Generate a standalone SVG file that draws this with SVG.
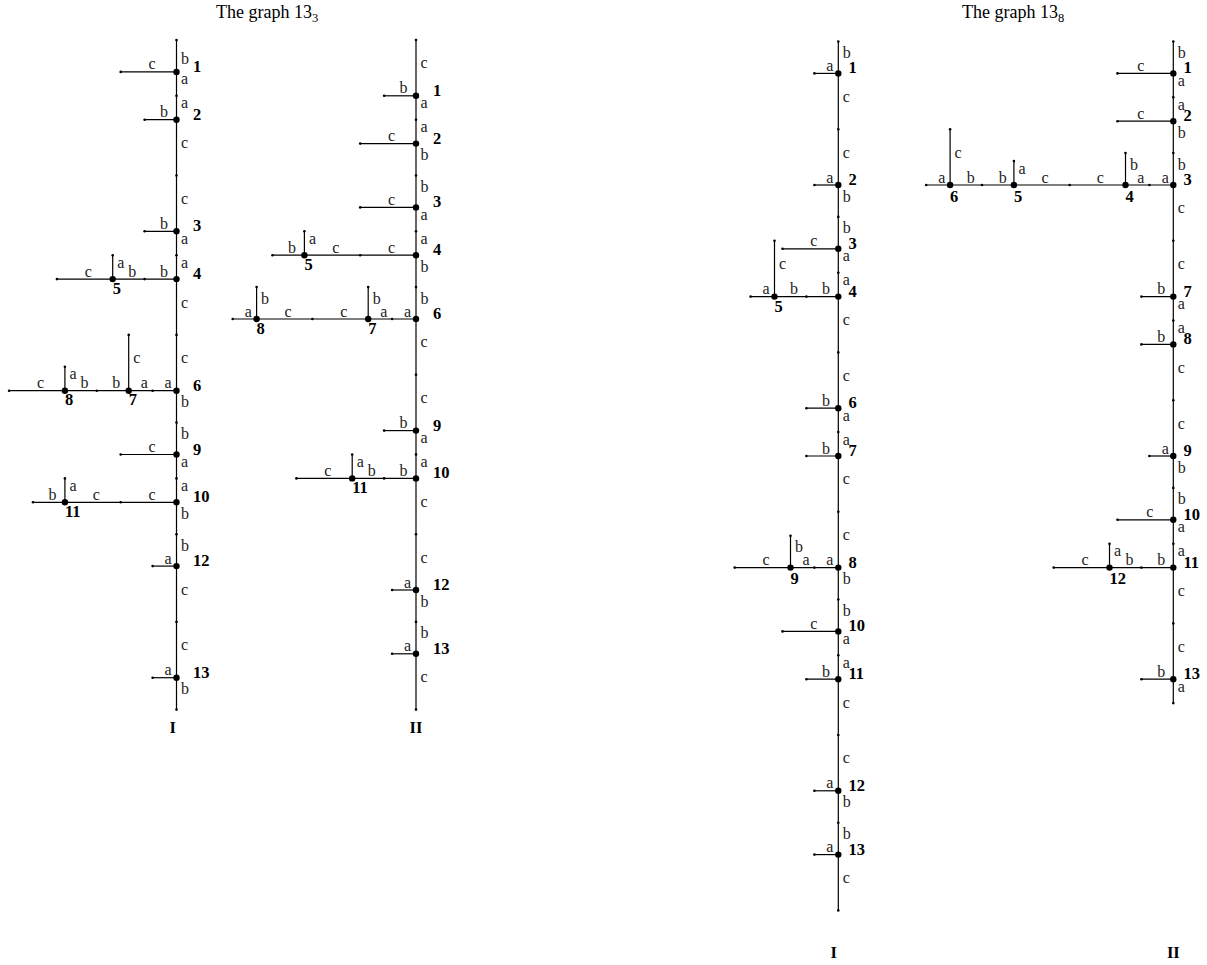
<svg xmlns="http://www.w3.org/2000/svg" width="1207" height="965" viewBox="0 0 1207 965">
<style>
.e{stroke:#000;stroke-width:1.2;fill:none}
.d{fill:#000}
.n{fill:#000}
.l{font-family:"Liberation Serif",serif;font-size:16px;fill:#222}
.m{text-anchor:middle}
.num{font-family:"Liberation Serif",serif;font-size:16.5px;font-weight:bold;fill:#000}
.t{font-family:"Liberation Serif",serif;font-size:18px;fill:#000}
.bl{font-family:"Liberation Serif",serif;font-size:16.5px;font-weight:bold;fill:#000;text-anchor:middle}
</style>
<rect width="1207" height="965" fill="#fff"/>
<text class="t" x="216" y="17.5">The graph 13<tspan font-size="12.5" dy="4">3</tspan></text>
<text class="t" x="962" y="17.5">The graph 13<tspan font-size="12.5" dy="4">8</tspan></text>

<!-- ===== Graph 13_3 I ===== -->
<g id="g133I">
<g id="g133I-connectors">
<g class="e">
<line x1="176.5" y1="40" x2="176.5" y2="709.6"/>
<line x1="120.7" y1="71.9" x2="176.5" y2="71.9"/>
<line x1="144.6" y1="119.7" x2="176.5" y2="119.7"/>
<line x1="144.6" y1="231.3" x2="176.5" y2="231.3"/>
<line x1="56.9" y1="279.1" x2="176.5" y2="279.1"/>
<line x1="112.7" y1="255.2" x2="112.7" y2="279.1"/>
<line x1="9.1" y1="390.7" x2="176.5" y2="390.7"/>
<line x1="128.7" y1="334.9" x2="128.7" y2="390.7"/>
<line x1="64.9" y1="366.8" x2="64.9" y2="390.7"/>
<line x1="120.7" y1="454.5" x2="176.5" y2="454.5"/>
<line x1="33" y1="502.3" x2="176.5" y2="502.3"/>
<line x1="64.9" y1="478.4" x2="64.9" y2="502.3"/>
<line x1="152.6" y1="566.1" x2="176.5" y2="566.1"/>
<line x1="152.6" y1="677.7" x2="176.5" y2="677.7"/>
</g>
<g class="d">
<circle cx="176.5" cy="40" r="1.3"/><circle cx="176.5" cy="95.8" r="1.3"/><circle cx="176.5" cy="175.5" r="1.3"/><circle cx="176.5" cy="255.2" r="1.3"/><circle cx="176.5" cy="334.9" r="1.3"/><circle cx="176.5" cy="422.6" r="1.3"/><circle cx="176.5" cy="478.4" r="1.3"/><circle cx="176.5" cy="534.2" r="1.3"/><circle cx="176.5" cy="621.9" r="1.3"/><circle cx="176.5" cy="709.6" r="1.3"/>
<circle cx="120.7" cy="71.9" r="1.3"/><circle cx="144.6" cy="119.7" r="1.3"/><circle cx="144.6" cy="231.3" r="1.3"/><circle cx="144.6" cy="279.1" r="1.3"/><circle cx="56.9" cy="279.1" r="1.3"/><circle cx="112.7" cy="255.2" r="1.3"/><circle cx="152.6" cy="390.7" r="1.3"/><circle cx="96.8" cy="390.7" r="1.3"/><circle cx="9.1" cy="390.7" r="1.3"/><circle cx="128.7" cy="334.9" r="1.3"/><circle cx="64.9" cy="366.8" r="1.3"/><circle cx="120.7" cy="454.5" r="1.3"/><circle cx="120.7" cy="502.3" r="1.3"/><circle cx="33" cy="502.3" r="1.3"/><circle cx="64.9" cy="478.4" r="1.3"/><circle cx="152.6" cy="566.1" r="1.3"/><circle cx="152.6" cy="677.7" r="1.3"/>
</g>
<g class="l">
<text x="181" y="64">b</text><text x="181" y="84.4">a</text><text x="181" y="108.3">a</text><text x="181" y="148.1">c</text><text x="181" y="203.9">c</text><text x="181" y="243.8">a</text><text x="181" y="267.7">a</text><text x="181" y="307.5">c</text><text x="181" y="363.3">c</text><text x="181" y="407.2">b</text><text x="181" y="439.1">b</text><text x="181" y="467">a</text><text x="181" y="490.9">a</text><text x="181" y="518.8">b</text><text x="181" y="550.7">b</text><text x="181" y="594.5">c</text><text x="181" y="650.3">c</text><text x="181" y="694.2">b</text>
<text x="117.2" y="267.7">a</text><text x="133.2" y="363.3">c</text><text x="69.4" y="379.3">a</text><text x="69.4" y="490.9">a</text>
</g>
<g class="l m">
<text x="152.1" y="69.4">c</text><text x="164.1" y="117.2">b</text><text x="164.1" y="228.8">b</text>
<text x="164.1" y="276.6">b</text><text x="132.2" y="276.6">b</text><text x="88.3" y="276.6">c</text>
<text x="168.1" y="388.2">a</text><text x="144.2" y="388.2">a</text><text x="116.3" y="388.2">b</text><text x="84.4" y="388.2">b</text><text x="40.5" y="388.2">c</text>
<text x="152.1" y="452">c</text>
<text x="152.1" y="499.8">c</text><text x="96.3" y="499.8">c</text><text x="52.5" y="499.8">b</text>
<text x="168.1" y="563.6">a</text><text x="168.1" y="675.2">a</text>
</g>
</g>
<g id="g133I-n1"><circle class="n" cx="176.5" cy="71.9" r="3.2"/><text class="num" x="193" y="71.9">1</text></g>
<g id="g133I-n2"><circle class="n" cx="176.5" cy="119.7" r="3.2"/><text class="num" x="193" y="119.7">2</text></g>
<g id="g133I-n3"><circle class="n" cx="176.5" cy="231.3" r="3.2"/><text class="num" x="193" y="231.3">3</text></g>
<g id="g133I-n4"><circle class="n" cx="176.5" cy="279.1" r="3.2"/><text class="num" x="193" y="279.1">4</text></g>
<g id="g133I-n5"><circle class="n" cx="112.7" cy="279.1" r="3.2"/><text class="num" x="112.7" y="293.6">5</text></g>
<g id="g133I-n6"><circle class="n" cx="176.5" cy="390.7" r="3.2"/><text class="num" x="193" y="390.7">6</text></g>
<g id="g133I-n7"><circle class="n" cx="128.7" cy="390.7" r="3.2"/><text class="num" x="128.7" y="405.2">7</text></g>
<g id="g133I-n8"><circle class="n" cx="64.9" cy="390.7" r="3.2"/><text class="num" x="64.9" y="405.2">8</text></g>
<g id="g133I-n9"><circle class="n" cx="176.5" cy="454.5" r="3.2"/><text class="num" x="193" y="454.5">9</text></g>
<g id="g133I-n10"><circle class="n" cx="176.5" cy="502.3" r="3.2"/><text class="num" x="193" y="502.3">10</text></g>
<g id="g133I-n11"><circle class="n" cx="64.9" cy="502.3" r="3.2"/><text class="num" x="64.9" y="516.8">11</text></g>
<g id="g133I-n12"><circle class="n" cx="176.5" cy="566.1" r="3.2"/><text class="num" x="193" y="566.1">12</text></g>
<g id="g133I-n13"><circle class="n" cx="176.5" cy="677.7" r="3.2"/><text class="num" x="193" y="677.7">13</text></g>
<text class="bl" x="172.7" y="733">I</text>
</g>

<!-- ===== Graph 13_3 II ===== -->
<g id="g133II">
<g id="g133II-connectors">
<g class="e">
<line x1="416" y1="40" x2="416" y2="709.6"/>
<line x1="384.1" y1="95.8" x2="416" y2="95.8"/>
<line x1="360.2" y1="143.6" x2="416" y2="143.6"/>
<line x1="360.2" y1="207.4" x2="416" y2="207.4"/>
<line x1="272.5" y1="255.2" x2="416" y2="255.2"/>
<line x1="304.4" y1="231.3" x2="304.4" y2="255.2"/>
<line x1="232.7" y1="319" x2="416" y2="319"/>
<line x1="368.2" y1="287.1" x2="368.2" y2="319"/>
<line x1="256.6" y1="287.1" x2="256.6" y2="319"/>
<line x1="384.1" y1="430.6" x2="416" y2="430.6"/>
<line x1="296.4" y1="478.4" x2="416" y2="478.4"/>
<line x1="352.2" y1="454.5" x2="352.2" y2="478.4"/>
<line x1="392.1" y1="590" x2="416" y2="590"/>
<line x1="392.1" y1="653.8" x2="416" y2="653.8"/>
</g>
<g class="d">
<circle cx="416" cy="40" r="1.3"/><circle cx="416" cy="119.7" r="1.3"/><circle cx="416" cy="175.5" r="1.3"/><circle cx="416" cy="231.3" r="1.3"/><circle cx="416" cy="287.1" r="1.3"/><circle cx="416" cy="374.8" r="1.3"/><circle cx="416" cy="454.5" r="1.3"/><circle cx="416" cy="534.2" r="1.3"/><circle cx="416" cy="621.9" r="1.3"/><circle cx="416" cy="709.6" r="1.3"/>
<circle cx="384.1" cy="95.8" r="1.3"/><circle cx="360.2" cy="143.6" r="1.3"/><circle cx="360.2" cy="207.4" r="1.3"/><circle cx="360.2" cy="255.2" r="1.3"/><circle cx="272.5" cy="255.2" r="1.3"/><circle cx="304.4" cy="231.3" r="1.3"/><circle cx="392.1" cy="319" r="1.3"/><circle cx="312.4" cy="319" r="1.3"/><circle cx="232.7" cy="319" r="1.3"/><circle cx="368.2" cy="287.1" r="1.3"/><circle cx="256.6" cy="287.1" r="1.3"/><circle cx="384.1" cy="430.6" r="1.3"/><circle cx="384.1" cy="478.4" r="1.3"/><circle cx="296.4" cy="478.4" r="1.3"/><circle cx="352.2" cy="454.5" r="1.3"/><circle cx="392.1" cy="590" r="1.3"/><circle cx="392.1" cy="653.8" r="1.3"/>
</g>
<g class="l">
<text x="420.5" y="68.4">c</text><text x="420.5" y="108.3">a</text><text x="420.5" y="132.2">a</text><text x="420.5" y="160">b</text><text x="420.5" y="192">b</text><text x="420.5" y="219.9">a</text><text x="420.5" y="243.8">a</text><text x="420.5" y="271.7">b</text><text x="420.5" y="303.6">b</text><text x="420.5" y="347.4">c</text><text x="420.5" y="403.2">c</text><text x="420.5" y="443">a</text><text x="420.5" y="467">a</text><text x="420.5" y="506.8">c</text><text x="420.5" y="562.6">c</text><text x="420.5" y="606.5">b</text><text x="420.5" y="638.4">b</text><text x="420.5" y="682.2">c</text>
<text x="308.9" y="243.8">a</text><text x="372.7" y="303.6">b</text><text x="261.1" y="303.6">b</text><text x="356.7" y="467">a</text>
</g>
<g class="l m">
<text x="403.6" y="93.3">b</text><text x="391.6" y="141.1">c</text><text x="391.6" y="204.9">c</text>
<text x="391.6" y="252.7">c</text><text x="335.8" y="252.7">c</text><text x="292" y="252.7">b</text>
<text x="407.5" y="316.5">a</text><text x="383.7" y="316.5">a</text><text x="343.8" y="316.5">c</text><text x="288" y="316.5">c</text><text x="248.2" y="316.5">a</text>
<text x="403.6" y="428.1">b</text>
<text x="403.6" y="475.9">b</text><text x="371.7" y="475.9">b</text><text x="327.8" y="475.9">c</text>
<text x="407.6" y="587.5">a</text><text x="407.6" y="651.3">a</text>
</g>
</g>
<g id="g133II-n1"><circle class="n" cx="416" cy="95.8" r="3.2"/><text class="num" x="433" y="95.8">1</text></g>
<g id="g133II-n2"><circle class="n" cx="416" cy="143.6" r="3.2"/><text class="num" x="433" y="143.6">2</text></g>
<g id="g133II-n3"><circle class="n" cx="416" cy="207.4" r="3.2"/><text class="num" x="433" y="207.4">3</text></g>
<g id="g133II-n4"><circle class="n" cx="416" cy="255.2" r="3.2"/><text class="num" x="433" y="255.2">4</text></g>
<g id="g133II-n5"><circle class="n" cx="304.4" cy="255.2" r="3.2"/><text class="num" x="304.4" y="269.7">5</text></g>
<g id="g133II-n6"><circle class="n" cx="416" cy="319" r="3.2"/><text class="num" x="433" y="319">6</text></g>
<g id="g133II-n7"><circle class="n" cx="368.2" cy="319" r="3.2"/><text class="num" x="368.2" y="333.5">7</text></g>
<g id="g133II-n8"><circle class="n" cx="256.6" cy="319" r="3.2"/><text class="num" x="256.6" y="333.5">8</text></g>
<g id="g133II-n9"><circle class="n" cx="416" cy="430.6" r="3.2"/><text class="num" x="433" y="430.6">9</text></g>
<g id="g133II-n10"><circle class="n" cx="416" cy="478.4" r="3.2"/><text class="num" x="433" y="478.4">10</text></g>
<g id="g133II-n11"><circle class="n" cx="352.2" cy="478.4" r="3.2"/><text class="num" x="352.2" y="493">11</text></g>
<g id="g133II-n12"><circle class="n" cx="416" cy="590" r="3.2"/><text class="num" x="433" y="590">12</text></g>
<g id="g133II-n13"><circle class="n" cx="416" cy="653.8" r="3.2"/><text class="num" x="433" y="653.8">13</text></g>
<text class="bl" x="416" y="733">II</text>
</g>

<!-- ===== Graph 13_8 I ===== -->
<g id="g138I">
<g id="g138I-connectors">
<g class="e">
<line x1="838.3" y1="41.5" x2="838.3" y2="910.4"/>
<line x1="814.4" y1="73.4" x2="838.3" y2="73.4"/>
<line x1="814.4" y1="185" x2="838.3" y2="185"/>
<line x1="782.5" y1="248.8" x2="838.3" y2="248.8"/>
<line x1="750.6" y1="296.6" x2="838.3" y2="296.6"/>
<line x1="774.5" y1="240.8" x2="774.5" y2="296.6"/>
<line x1="806.4" y1="408.2" x2="838.3" y2="408.2"/>
<line x1="806.4" y1="456" x2="838.3" y2="456"/>
<line x1="734.7" y1="567.6" x2="838.3" y2="567.6"/>
<line x1="790.5" y1="535.7" x2="790.5" y2="567.6"/>
<line x1="782.5" y1="631.4" x2="838.3" y2="631.4"/>
<line x1="806.4" y1="679.2" x2="838.3" y2="679.2"/>
<line x1="814.4" y1="790.8" x2="838.3" y2="790.8"/>
<line x1="814.4" y1="854.6" x2="838.3" y2="854.6"/>
</g>
<g class="d">
<circle cx="838.3" cy="41.5" r="1.3"/><circle cx="838.3" cy="129.2" r="1.3"/><circle cx="838.3" cy="216.9" r="1.3"/><circle cx="838.3" cy="272.7" r="1.3"/><circle cx="838.3" cy="352.4" r="1.3"/><circle cx="838.3" cy="432.1" r="1.3"/><circle cx="838.3" cy="511.8" r="1.3"/><circle cx="838.3" cy="599.5" r="1.3"/><circle cx="838.3" cy="655.3" r="1.3"/><circle cx="838.3" cy="735" r="1.3"/><circle cx="838.3" cy="822.7" r="1.3"/><circle cx="838.3" cy="910.4" r="1.3"/>
<circle cx="814.4" cy="73.4" r="1.3"/><circle cx="814.4" cy="185" r="1.3"/><circle cx="782.5" cy="248.8" r="1.3"/><circle cx="806.4" cy="296.6" r="1.3"/><circle cx="750.6" cy="296.6" r="1.3"/><circle cx="774.5" cy="240.8" r="1.3"/><circle cx="806.4" cy="408.2" r="1.3"/><circle cx="806.4" cy="456" r="1.3"/><circle cx="814.4" cy="567.6" r="1.3"/><circle cx="734.7" cy="567.6" r="1.3"/><circle cx="790.5" cy="535.7" r="1.3"/><circle cx="782.5" cy="631.4" r="1.3"/><circle cx="806.4" cy="679.2" r="1.3"/><circle cx="814.4" cy="790.8" r="1.3"/><circle cx="814.4" cy="854.6" r="1.3"/>
</g>
<g class="l">
<text x="842.8" y="58">b</text><text x="842.8" y="101.8">c</text><text x="842.8" y="157.6">c</text><text x="842.8" y="201.5">b</text><text x="842.8" y="233.4">b</text><text x="842.8" y="261.3">a</text><text x="842.8" y="285.2">a</text><text x="842.8" y="325">c</text><text x="842.8" y="380.8">c</text><text x="842.8" y="420.7">a</text><text x="842.8" y="444.6">a</text><text x="842.8" y="484.4">c</text><text x="842.8" y="540.2">c</text><text x="842.8" y="584.1">b</text><text x="842.8" y="616">b</text><text x="842.8" y="643.9">a</text><text x="842.8" y="667.8">a</text><text x="842.8" y="707.6">c</text><text x="842.8" y="763.4">c</text><text x="842.8" y="807.3">b</text><text x="842.8" y="839.2">b</text><text x="842.8" y="883">c</text>
<text x="779" y="269.2">c</text><text x="795" y="552.2">b</text>
</g>
<g class="l m">
<text x="829.9" y="70.9">a</text><text x="829.9" y="182.5">a</text><text x="813.9" y="246.3">c</text>
<text x="825.9" y="294.1">b</text><text x="794" y="294.1">b</text><text x="766" y="294.1">a</text>
<text x="825.9" y="405.7">b</text><text x="825.9" y="453.5">b</text>
<text x="829.9" y="565.1">a</text><text x="806" y="565.1">a</text><text x="766.1" y="565.1">c</text>
<text x="813.9" y="628.9">c</text><text x="825.9" y="676.7">b</text><text x="829.9" y="788.3">a</text><text x="829.9" y="852.1">a</text>
</g>
</g>
<g id="g138I-n1"><circle class="n" cx="838.3" cy="73.4" r="3.2"/><text class="num" x="848.5" y="73.4">1</text></g>
<g id="g138I-n2"><circle class="n" cx="838.3" cy="185" r="3.2"/><text class="num" x="848.5" y="185">2</text></g>
<g id="g138I-n3"><circle class="n" cx="838.3" cy="248.8" r="3.2"/><text class="num" x="848.5" y="248.8">3</text></g>
<g id="g138I-n4"><circle class="n" cx="838.3" cy="296.6" r="3.2"/><text class="num" x="848.5" y="296.6">4</text></g>
<g id="g138I-n5"><circle class="n" cx="774.5" cy="296.6" r="3.2"/><text class="num" x="774.5" y="312">5</text></g>
<g id="g138I-n6"><circle class="n" cx="838.3" cy="408.2" r="3.2"/><text class="num" x="848.5" y="408.2">6</text></g>
<g id="g138I-n7"><circle class="n" cx="838.3" cy="456" r="3.2"/><text class="num" x="848.5" y="456">7</text></g>
<g id="g138I-n8"><circle class="n" cx="838.3" cy="567.6" r="3.2"/><text class="num" x="848.5" y="567.6">8</text></g>
<g id="g138I-n9"><circle class="n" cx="790.5" cy="567.6" r="3.2"/><text class="num" x="790.5" y="583.5">9</text></g>
<g id="g138I-n10"><circle class="n" cx="838.3" cy="631.4" r="3.2"/><text class="num" x="848.5" y="631.4">10</text></g>
<g id="g138I-n11"><circle class="n" cx="838.3" cy="679.2" r="3.2"/><text class="num" x="848.5" y="679.2">11</text></g>
<g id="g138I-n12"><circle class="n" cx="838.3" cy="790.8" r="3.2"/><text class="num" x="848.5" y="790.8">12</text></g>
<g id="g138I-n13"><circle class="n" cx="838.3" cy="854.6" r="3.2"/><text class="num" x="848.5" y="854.6">13</text></g>
<text class="bl" x="833.7" y="958">I</text>
</g>

<!-- ===== Graph 13_8 II ===== -->
<g id="g138II">
<g id="g138II-connectors">
<g class="e">
<line x1="1173.3" y1="41.5" x2="1173.3" y2="703.1"/>
<line x1="1117.5" y1="73.4" x2="1173.3" y2="73.4"/>
<line x1="1117.5" y1="121.2" x2="1173.3" y2="121.2"/>
<line x1="926.2" y1="185" x2="1173.3" y2="185"/>
<line x1="1125.5" y1="153.1" x2="1125.5" y2="185"/>
<line x1="1013.9" y1="161.1" x2="1013.9" y2="185"/>
<line x1="950.1" y1="129.2" x2="950.1" y2="185"/>
<line x1="1141.4" y1="296.6" x2="1173.3" y2="296.6"/>
<line x1="1141.4" y1="344.4" x2="1173.3" y2="344.4"/>
<line x1="1149.4" y1="456" x2="1173.3" y2="456"/>
<line x1="1117.5" y1="519.8" x2="1173.3" y2="519.8"/>
<line x1="1053.7" y1="567.6" x2="1173.3" y2="567.6"/>
<line x1="1109.5" y1="543.7" x2="1109.5" y2="567.6"/>
<line x1="1141.4" y1="679.2" x2="1173.3" y2="679.2"/>
</g>
<g class="d">
<circle cx="1173.3" cy="41.5" r="1.3"/><circle cx="1173.3" cy="97.3" r="1.3"/><circle cx="1173.3" cy="153.1" r="1.3"/><circle cx="1173.3" cy="240.8" r="1.3"/><circle cx="1173.3" cy="320.5" r="1.3"/><circle cx="1173.3" cy="400.2" r="1.3"/><circle cx="1173.3" cy="487.9" r="1.3"/><circle cx="1173.3" cy="543.7" r="1.3"/><circle cx="1173.3" cy="623.4" r="1.3"/><circle cx="1173.3" cy="703.1" r="1.3"/>
<circle cx="1117.5" cy="73.4" r="1.3"/><circle cx="1117.5" cy="121.2" r="1.3"/><circle cx="1149.4" cy="185" r="1.3"/><circle cx="1069.7" cy="185" r="1.3"/><circle cx="982" cy="185" r="1.3"/><circle cx="926.2" cy="185" r="1.3"/><circle cx="1125.5" cy="153.1" r="1.3"/><circle cx="1013.9" cy="161.1" r="1.3"/><circle cx="950.1" cy="129.2" r="1.3"/><circle cx="1141.4" cy="296.6" r="1.3"/><circle cx="1141.4" cy="344.4" r="1.3"/><circle cx="1149.4" cy="456" r="1.3"/><circle cx="1117.5" cy="519.8" r="1.3"/><circle cx="1141.4" cy="567.6" r="1.3"/><circle cx="1053.7" cy="567.6" r="1.3"/><circle cx="1109.5" cy="543.7" r="1.3"/><circle cx="1141.4" cy="679.2" r="1.3"/>
</g>
<g class="l">
<text x="1177.8" y="58">b</text><text x="1177.8" y="85.9">a</text><text x="1177.8" y="109.8">a</text><text x="1177.8" y="137.7">b</text><text x="1177.8" y="169.6">b</text><text x="1177.8" y="213.4">c</text><text x="1177.8" y="269.2">c</text><text x="1177.8" y="309">a</text><text x="1177.8" y="333">a</text><text x="1177.8" y="372.8">c</text><text x="1177.8" y="428.6">c</text><text x="1177.8" y="472.5">b</text><text x="1177.8" y="504.4">b</text><text x="1177.8" y="532.3">a</text><text x="1177.8" y="556.2">a</text><text x="1177.8" y="596">c</text><text x="1177.8" y="651.8">c</text><text x="1177.8" y="691.7">a</text>
<text x="1130" y="169.6">b</text><text x="1018.4" y="173.6">a</text><text x="954.6" y="157.6">c</text><text x="1114" y="556.2">a</text>
</g>
<g class="l m">
<text x="1140.8" y="70.9">c</text><text x="1140.8" y="118.7">c</text>
<text x="1165.2" y="182.5">a</text><text x="1140.8" y="182.5">a</text><text x="1100.3" y="182.5">c</text><text x="1045" y="182.5">c</text><text x="1002.8" y="182.5">b</text><text x="970.8" y="182.5">b</text><text x="941.7" y="182.5">a</text>
<text x="1161.3" y="294.1">b</text><text x="1161.3" y="341.9">b</text><text x="1165.2" y="453.5">a</text><text x="1149.9" y="517.3">c</text>
<text x="1161.3" y="565.1">b</text><text x="1129.4" y="565.1">b</text><text x="1085.1" y="565.1">c</text>
<text x="1161.3" y="676.7">b</text>
</g>
</g>
<g id="g138II-n1"><circle class="n" cx="1173.3" cy="73.4" r="3.2"/><text class="num" x="1183.5" y="73.4">1</text></g>
<g id="g138II-n2"><circle class="n" cx="1173.3" cy="121.2" r="3.2"/><text class="num" x="1183.5" y="121.2">2</text></g>
<g id="g138II-n3"><circle class="n" cx="1173.3" cy="185" r="3.2"/><text class="num" x="1183.5" y="185">3</text></g>
<g id="g138II-n4"><circle class="n" cx="1125.5" cy="185" r="3.2"/><text class="num" x="1125.5" y="201.5">4</text></g>
<g id="g138II-n5"><circle class="n" cx="1013.9" cy="185" r="3.2"/><text class="num" x="1013.9" y="201.5">5</text></g>
<g id="g138II-n6"><circle class="n" cx="950.1" cy="185" r="3.2"/><text class="num" x="950.1" y="201.5">6</text></g>
<g id="g138II-n7"><circle class="n" cx="1173.3" cy="296.6" r="3.2"/><text class="num" x="1183.5" y="296.6">7</text></g>
<g id="g138II-n8"><circle class="n" cx="1173.3" cy="344.4" r="3.2"/><text class="num" x="1183.5" y="344.4">8</text></g>
<g id="g138II-n9"><circle class="n" cx="1173.3" cy="456" r="3.2"/><text class="num" x="1183.5" y="456">9</text></g>
<g id="g138II-n10"><circle class="n" cx="1173.3" cy="519.8" r="3.2"/><text class="num" x="1183.5" y="519.8">10</text></g>
<g id="g138II-n11"><circle class="n" cx="1173.3" cy="567.6" r="3.2"/><text class="num" x="1183.5" y="567.6">11</text></g>
<g id="g138II-n12"><circle class="n" cx="1109.5" cy="567.6" r="3.2"/><text class="num" x="1109.5" y="584">12</text></g>
<g id="g138II-n13"><circle class="n" cx="1173.3" cy="679.2" r="3.2"/><text class="num" x="1183.5" y="679.2">13</text></g>
<text class="bl" x="1173.3" y="958">II</text>
</g>
</svg>
